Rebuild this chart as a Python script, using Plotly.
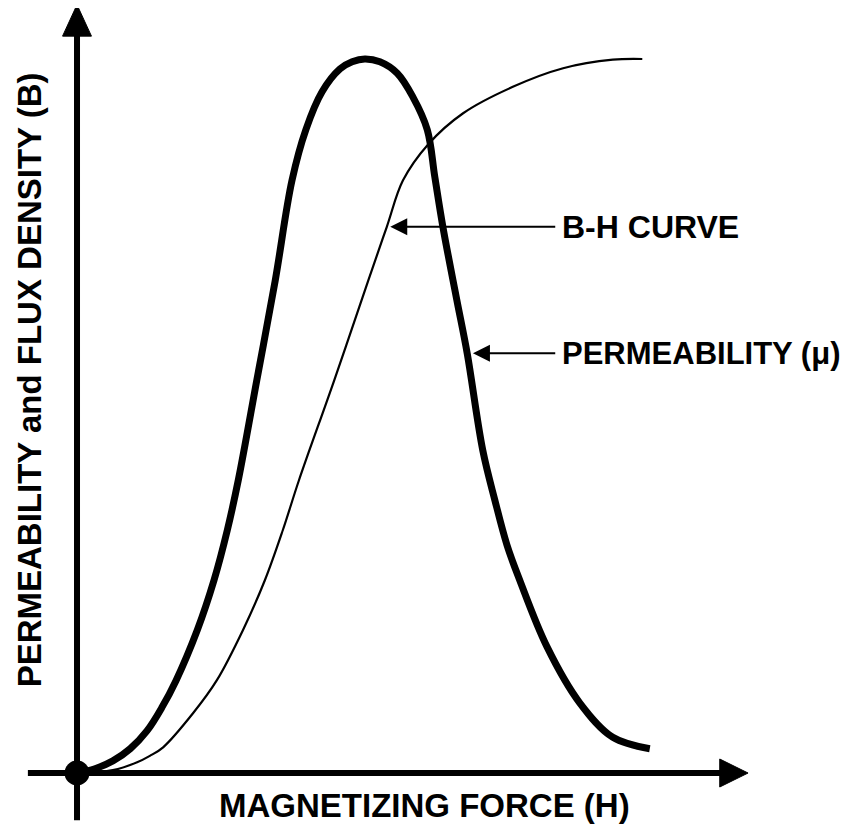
import plotly.graph_objects as go

# Magnetizing force H (arbitrary units, 0..100) and curve values (0..100)
perm_h = [0, 3.1, 6.2, 9.2, 12.1, 14.7, 17.1, 20.8, 23.7, 26.0, 27.9, 31.1, 34.3, 37.2,
          39.6, 42.4, 45.5, 47.6, 49.8, 52.4, 55.4, 58.1, 60.6, 61.9, 63.3, 65.7, 67.5,
          70.2, 72.3, 74.4, 76.6, 81.3, 87.0, 92.7, 99.1]
perm_mu = [0, 0.6, 1.7, 3.4, 5.9, 9.2, 12.9, 20.0, 27.0, 34.0, 41.0, 55.0, 69.0, 83.0,
           90.1, 95.4, 98.6, 99.6, 100, 99.6, 98.0, 94.7, 90.1, 83.5, 76.5, 66.3, 58.8,
           45.2, 38.2, 31.9, 27.0, 17.7, 9.8, 5.0, 3.4]

bh_h = [0, 6.2, 10.4, 12.6, 14.9, 20.1, 24.2, 28.7, 32.5, 35.6, 38.4, 44.5, 50.4, 53.6,
        56.4, 60.7, 66.8, 75.4, 84.1, 92.7, 97.8]
bh_b = [0, 0.4, 1.5, 2.4, 3.6, 8.4, 13.0, 20.0, 27.0, 34.0, 41.0, 55.0, 69.0, 76.5,
        83.0, 88.0, 92.4, 96.1, 98.7, 99.9, 100]

labels = ["B-H CURVE", "PERMEABILITY (\u03bc)"]
x_title = "MAGNETIZING FORCE (H)"
y_title = "PERMEABILITY and FLUX DENSITY (B)"

FONT = "Liberation Sans, Arial, sans-serif"
FS_LABEL = 32
FS_LABEL_MU = 31
FS_TITLE = 33

fig = go.Figure()

# axes drawn as shapes with arrowheads
shapes = [
    dict(type="line", x0=0, x1=0, y0=-6.6, y1=103.6, line=dict(color="black", width=6)),
    dict(type="path", path="M -2.5,103.2 L 2.5,103.2 L 0,107.6 Z",
         fillcolor="black", line=dict(color="black", width=1)),
    dict(type="line", x0=-8.5, x1=111.6, y0=0, y1=0, line=dict(color="black", width=6)),
    dict(type="path", path="M 111.2,-1.96 L 111.2,1.96 L 116.1,0 Z",
         fillcolor="black", line=dict(color="black", width=1)),
]

fig.add_trace(go.Scatter(x=bh_h, y=bh_b, mode="lines",
                         line=dict(color="black", width=2.2, shape="spline", smoothing=1.0),
                         hoverinfo="skip"))
fig.add_trace(go.Scatter(x=perm_h, y=perm_mu, mode="lines",
                         line=dict(color="black", width=7, shape="spline", smoothing=1.0),
                         hoverinfo="skip"))
fig.add_trace(go.Scatter(x=[0], y=[0], mode="markers", marker=dict(color="black", size=25),
                         hoverinfo="skip"))

annotations = [
    dict(x=54.2, y=76.5, ax=83.0, ay=76.5, axref="x", ayref="y", xref="x", yref="y",
         text="", showarrow=True, arrowhead=2, arrowsize=1.7, arrowwidth=2, arrowcolor="black"),
    dict(x=83.6, y=76.5, xref="x", yref="y", text="<b>" + labels[0] + "</b>", showarrow=False,
         xanchor="left", yanchor="middle", font=dict(family=FONT, size=FS_LABEL, color="black")),
    dict(x=68.5, y=58.8, ax=83.0, ay=58.8, axref="x", ayref="y", xref="x", yref="y",
         text="", showarrow=True, arrowhead=2, arrowsize=1.7, arrowwidth=2, arrowcolor="black"),
    dict(x=83.6, y=58.8, xref="x", yref="y", text="<b>" + labels[1] + "</b>", showarrow=False,
         xanchor="left", yanchor="middle", font=dict(family=FONT, size=FS_LABEL_MU, color="black")),
    dict(x=60.2, y=-4.5, xref="x", yref="y", text="<b>" + x_title + "</b>", showarrow=False,
         xanchor="center", yanchor="middle", font=dict(family=FONT, size=FS_TITLE, color="black")),
    dict(x=-8.3, y=55.0, xref="x", yref="y", text="<b>" + y_title + "</b>", showarrow=False,
         textangle=-90, xanchor="center", yanchor="middle",
         font=dict(family=FONT, size=FS_TITLE, color="black")),
]

fig.update_layout(
    width=843, height=819, autosize=False,
    margin=dict(l=0, r=0, t=0, b=0),
    paper_bgcolor="white", plot_bgcolor="white",
    showlegend=False,
    shapes=shapes, annotations=annotations,
    xaxis=dict(range=[-11.94, 133.91], visible=False, fixedrange=True),
    yaxis=dict(range=[-7.56, 107.14], visible=False, fixedrange=True),
)

fig.write_html("out.html")
